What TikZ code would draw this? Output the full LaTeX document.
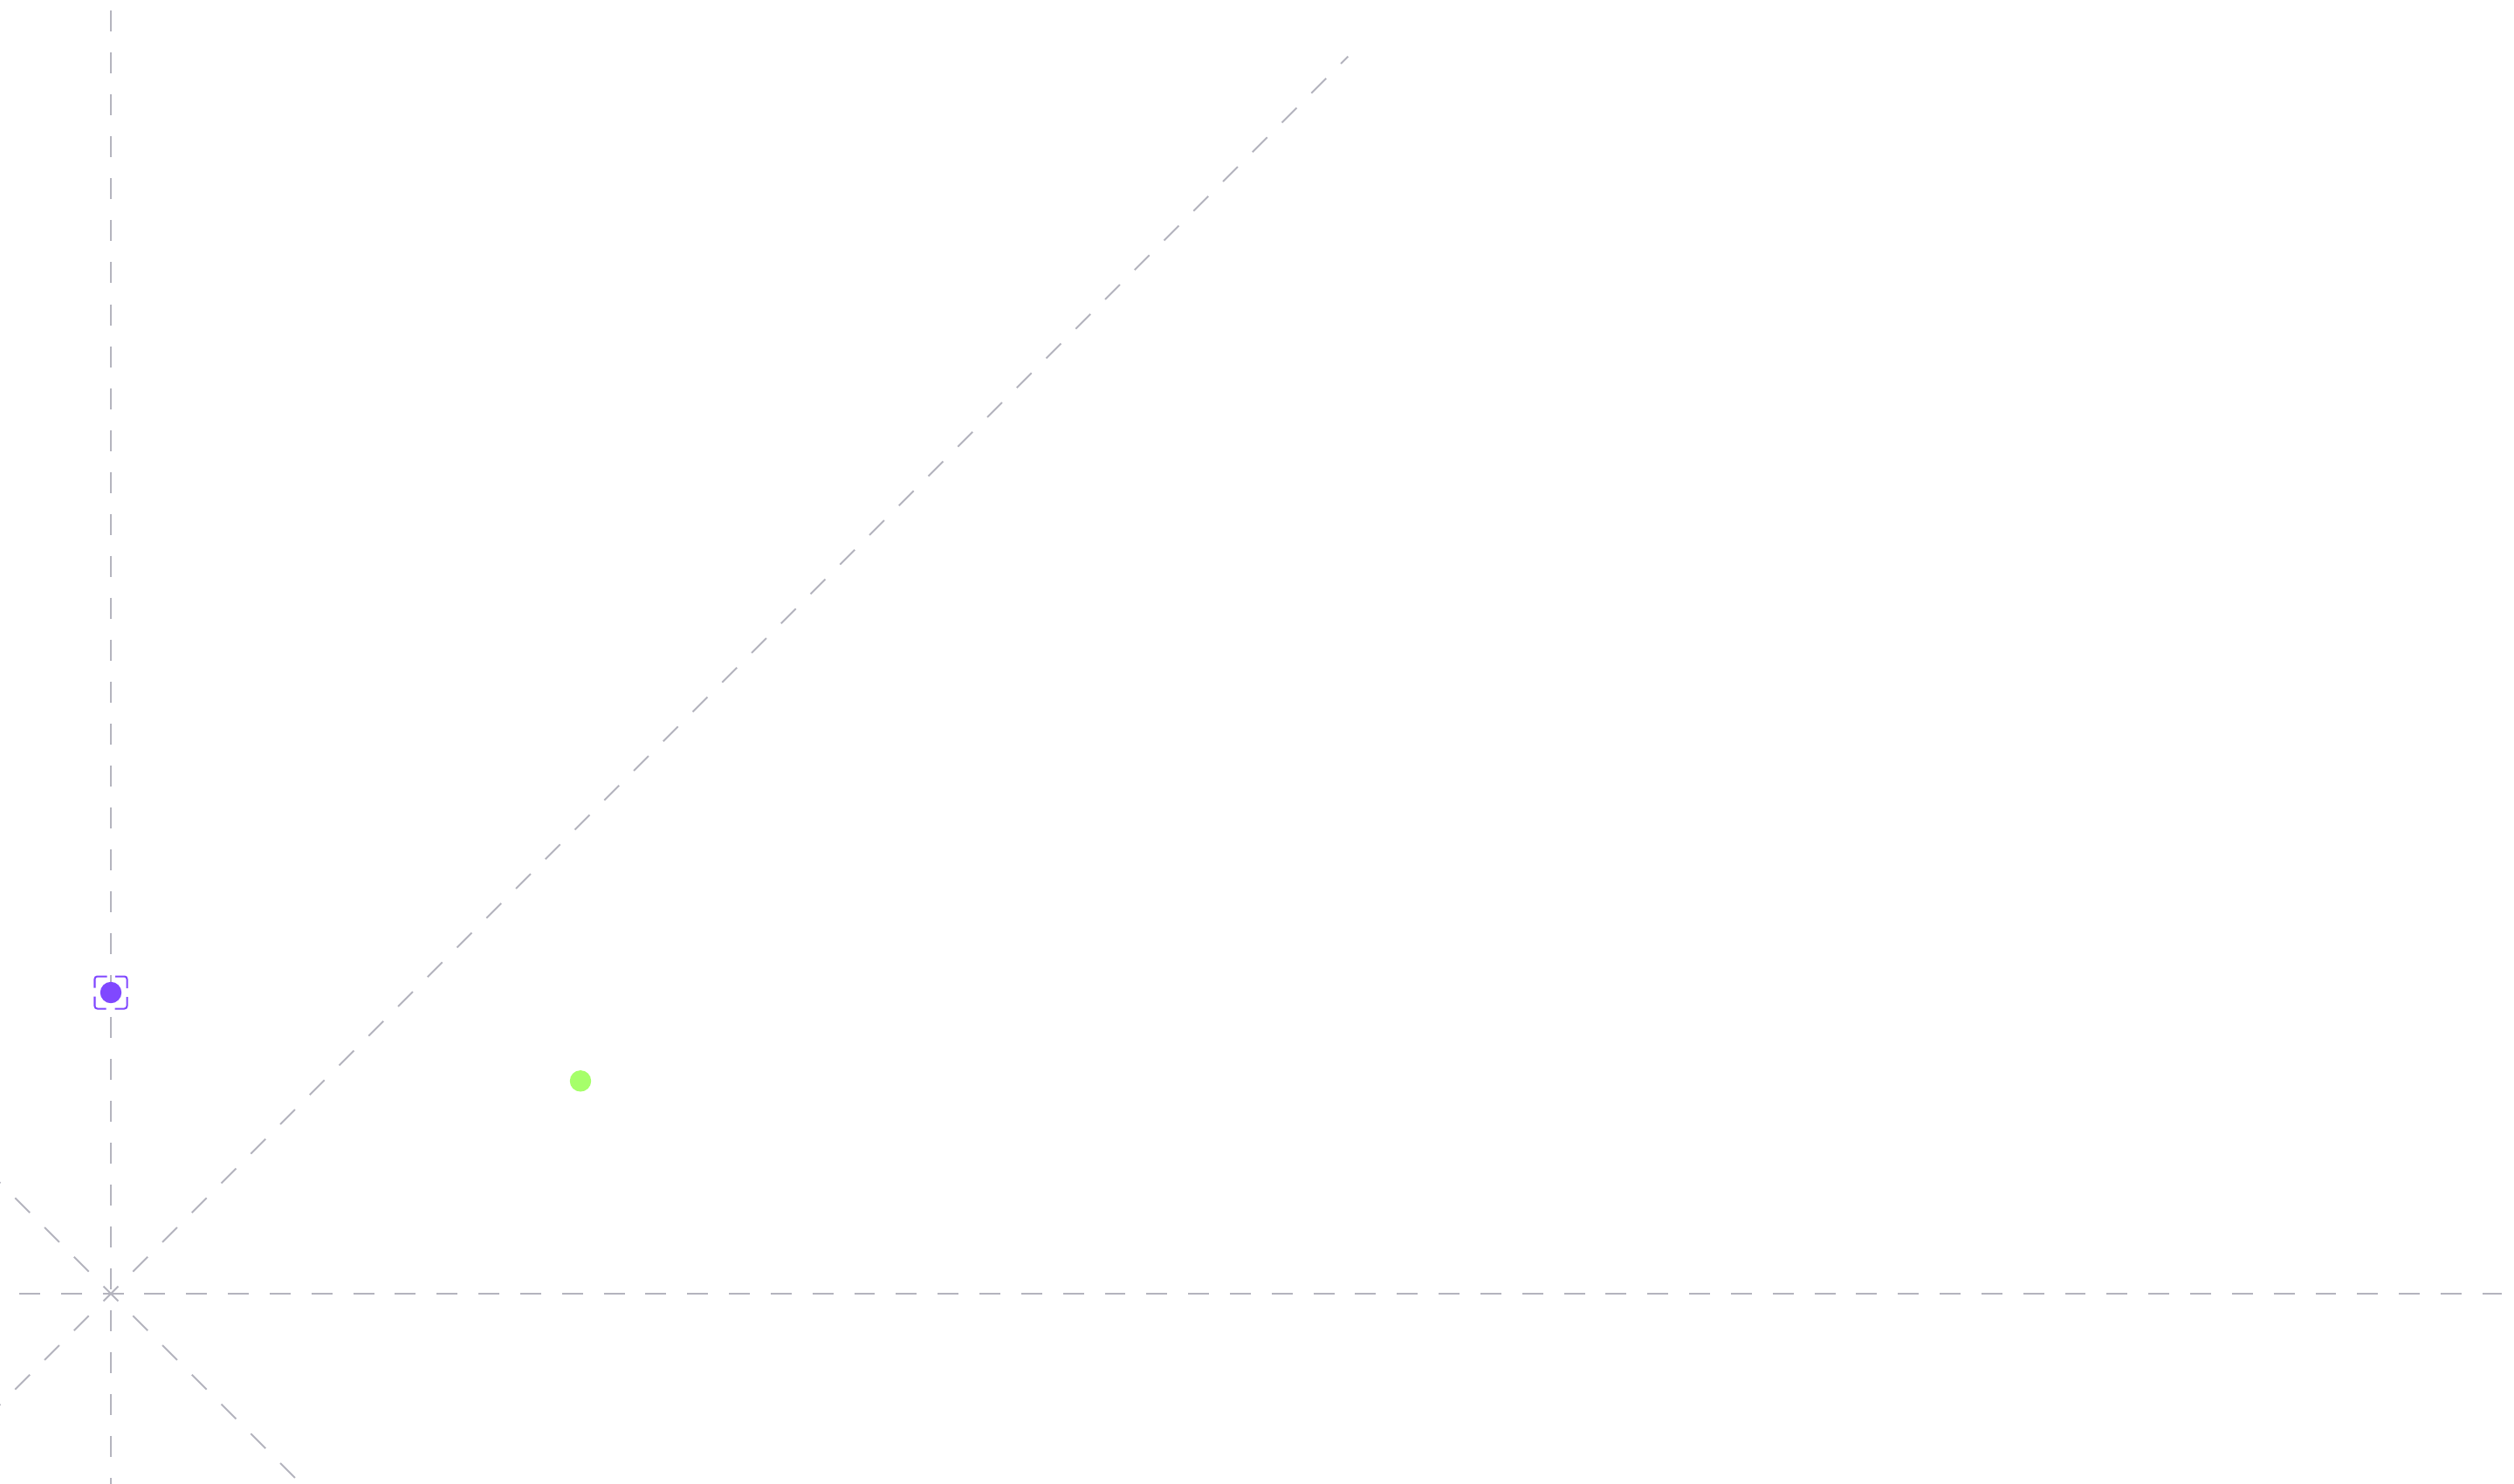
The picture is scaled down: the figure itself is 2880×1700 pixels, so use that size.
\documentclass[tikz,border=0pt]{standalone}
\begin{document}
\begin{tikzpicture}[x=0.01cm,y=-0.01cm]
\definecolor{guidegray}{RGB}{180,180,190}
\definecolor{markpurple}{RGB}{128,72,255}
\definecolor{markgreen}{RGB}{166,255,106}
\tikzset{
  guideline/.style={draw=guidegray, line width=0.02cm},
  hguide/.style={guideline, dash pattern=on 0.239cm off 0.239cm},
  vguide/.style={guideline, dash pattern=on 0.24cm off 0.24cm},
  dguide/.style={guideline, dash pattern=on 0.2385cm off 0.2385cm},
  dotmark/.style={circle, inner sep=0pt, minimum size=0.244cm, draw=none},
  selbox/.style={draw=markpurple, line width=0.02cm, rounded corners=0.03cm,
    dash pattern=on 0.2571cm off 0.1cm, dash phase=0.3071cm}
}
\useasboundingbox (0,0) rectangle (2880,1700);
\clip (0,0) rectangle (2880,1700);
\fill[white] (0,0) rectangle (2880,1700);

% guide coordinates
\coordinate (O) at (127,1482);
\coordinate (vtop) at (127,12.3);
\coordinate (vbot) at (127,1760);
\coordinate (hleft) at (22,1482);
\coordinate (hright) at (2866,1482);
\coordinate (d1start) at (-16.4,1625.4);
\coordinate (d1end) at (1544.3,64.7);
\coordinate (d2start) at (-16.4,1338.6);
\coordinate (d2end) at (460,1815);

% guide lines
\draw[vguide] (vtop) -- (vbot);
\draw[hguide] (hleft) -- (hright);
\draw[dguide] (d1start) -- (d1end);
\draw[dguide] (d2start) -- (d2end);

% markers
\node[dotmark, fill=markpurple] (pdot) at (127,1137) {};
\node[dotmark, fill=markgreen] (gdot) at (665,1238.3) {};

% dashed selection box around the purple marker
\draw[selbox] (127,1118.5) -- (145.5,1118.5) -- (145.5,1155.5) -- (108.5,1155.5) -- (108.5,1118.5) -- (127,1118.5);
\end{tikzpicture}
\end{document}
